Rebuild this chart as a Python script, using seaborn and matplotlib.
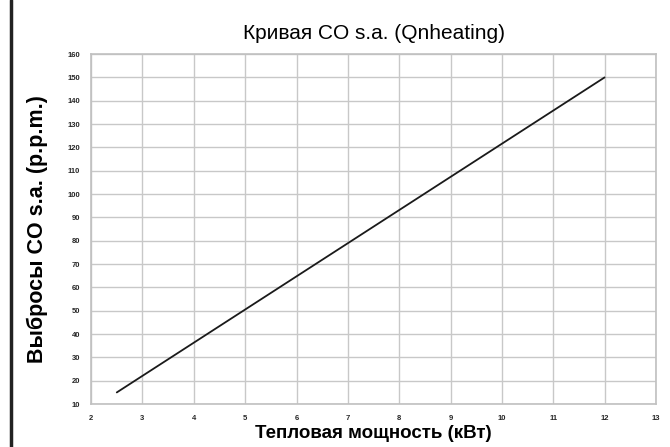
import matplotlib
matplotlib.use("Agg")
import matplotlib.pyplot as plt
import seaborn as sns
import pandas as pd
from matplotlib.lines import Line2D

# данные кривой CO
power_kw = [2.5, 12]
co_ppm = [15, 150]
x_ticks = list(range(2, 14))
y_ticks = list(range(10, 161, 10))

sns.set_theme(style="whitegrid")
plt.rcParams['font.family'] = ['Liberation Sans', 'DejaVu Sans']

df = pd.DataFrame({'power': power_kw, 'co': co_ppm})

fig = plt.figure(figsize=(6.7, 4.47), dpi=100)
ax = fig.add_axes([0.136, 0.096, 0.843, 0.783])
sns.lineplot(data=df, x='power', y='co', ax=ax, color='#1a1a1a', linewidth=1.3)

ax.set_xlim(2, 13)
ax.set_ylim(10, 160)
ax.set_xticks(x_ticks)
ax.set_yticks(y_ticks)
ax.tick_params(axis='both', labelsize=5.5, length=3, color='#999999', width=1, pad=5)
for lab in ax.get_xticklabels() + ax.get_yticklabels():
    lab.set_fontweight('bold')
ax.grid(True, color='#c8c8c8', linewidth=1)
for s in ax.spines.values():
    s.set_color('#c0c0c0')
    s.set_linewidth(1.2)

ax.set_title('Кривая CO s.a. (Qnheating)', fontsize=15, pad=11, color='black')
ax.set_xlabel('Тепловая мощность (кВт)', fontsize=13.5, fontweight='bold', labelpad=2, color='black')
ax.set_ylabel('Выбросы CO s.a. (p.p.m.)', fontsize=15.5, fontweight='bold', labelpad=14, color='black')

fig.add_artist(Line2D([0.016, 0.016], [0, 1], color='#222222', linewidth=2.5,
                      transform=fig.transFigure))

fig.savefig('out.png', dpi=100)
